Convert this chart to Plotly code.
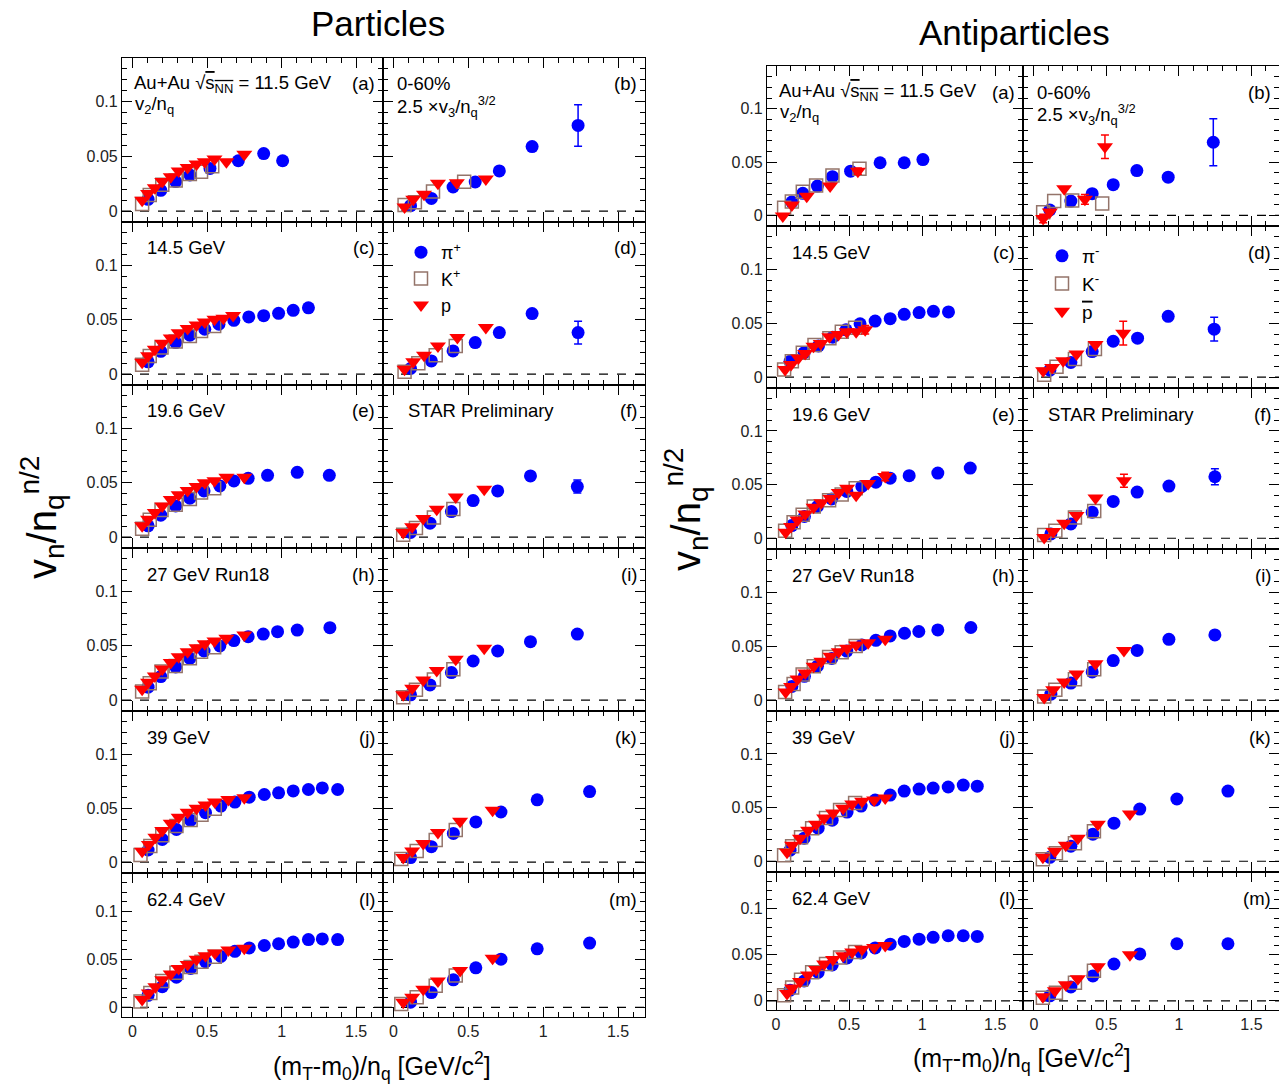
import plotly.graph_objects as go

W, H = 1279, 1085
FONT = "Liberation Sans, Arial, sans-serif"

energies = ["11.5", "14.5", "19.6", "27", "39", "62.4"]
energy_labels = [None, "14.5 GeV", "19.6 GeV", "27 GeV Run18", "39 GeV", "62.4 GeV"]
panel_letters = [("a", "b"), ("c", "d"), ("e", "f"), ("h", "i"), ("j", "k"), ("l", "m")]

# ---------------- Particles: v2/n_q ----------------
pos_v2_pion = {
    "11.5": ([0.105, 0.19, 0.29, 0.385, 0.52, 0.71, 0.88, 1.007],
             [0.0107, 0.019, 0.027, 0.033, 0.039, 0.046, 0.0526, 0.046]),
    "14.5": ([0.105, 0.19, 0.29, 0.385, 0.485, 0.58, 0.68, 0.78, 0.88, 0.98, 1.078, 1.18],
             [0.0113, 0.021, 0.029, 0.0358, 0.0413, 0.0459, 0.0495, 0.0526, 0.0538, 0.056, 0.0587, 0.061]),
    "19.6": ([0.105, 0.19, 0.29, 0.385, 0.48, 0.586, 0.68, 0.776, 0.906, 1.105, 1.32],
             [0.0104, 0.0202, 0.0287, 0.0358, 0.0425, 0.0471, 0.0517, 0.0541, 0.0569, 0.0596, 0.0569]),
    "27": ([0.105, 0.19, 0.29, 0.385, 0.48, 0.586, 0.68, 0.776, 0.877, 0.973, 1.105, 1.324],
           [0.0119, 0.0217, 0.0306, 0.0385, 0.0452, 0.0498, 0.0548, 0.0584, 0.0608, 0.063, 0.0645, 0.0667]),
    "39": ([0.105, 0.2, 0.295, 0.39, 0.49, 0.593, 0.687, 0.783, 0.884, 0.98, 1.078, 1.18, 1.273, 1.376],
           [0.0113, 0.0211, 0.0303, 0.0388, 0.0459, 0.052, 0.0557, 0.0602, 0.0627, 0.0642, 0.066, 0.0673, 0.0688, 0.0673]),
    "62.4": ([0.105, 0.2, 0.295, 0.39, 0.49, 0.593, 0.687, 0.783, 0.884, 0.98, 1.078, 1.18, 1.273, 1.376],
             [0.0126, 0.0215, 0.0315, 0.0405, 0.0476, 0.053, 0.0584, 0.062, 0.0645, 0.0663, 0.068, 0.0706, 0.0713, 0.0706]),
}
pos_v2_kaon = {
    "11.5": ([0.065, 0.116, 0.2, 0.29, 0.385, 0.46, 0.535],
             [0.0064, 0.0147, 0.024, 0.028, 0.034, 0.036, 0.041]),
    "14.5": ([0.065, 0.116, 0.195, 0.29, 0.385, 0.46, 0.548],
             [0.0086, 0.0168, 0.0245, 0.03, 0.035, 0.0398, 0.0443]),
    "19.6": ([0.065, 0.116, 0.195, 0.29, 0.385, 0.46, 0.548],
             [0.0077, 0.0159, 0.025, 0.0297, 0.035, 0.041, 0.045]),
    "27": ([0.065, 0.116, 0.195, 0.29, 0.385, 0.46, 0.548],
           [0.0079, 0.0156, 0.0263, 0.0315, 0.0385, 0.0446, 0.0486]),
    "39": ([0.054, 0.12, 0.2, 0.295, 0.39, 0.463, 0.552],
           [0.0067, 0.015, 0.025, 0.0336, 0.039, 0.044, 0.0495]),
    "62.4": ([0.054, 0.12, 0.2, 0.295, 0.39, 0.463, 0.552],
             [0.0061, 0.015, 0.0276, 0.036, 0.042, 0.0476, 0.0527]),
}
pos_v2_proton = {
    "11.5": ([0.065, 0.105, 0.15, 0.2, 0.257, 0.31, 0.37, 0.43, 0.485, 0.55, 0.63, 0.75],
             [0.0098, 0.016, 0.0214, 0.027, 0.0315, 0.0367, 0.0398, 0.043, 0.045, 0.0477, 0.045, 0.052]),
    "14.5": ([0.065, 0.105, 0.15, 0.2, 0.257, 0.31, 0.37, 0.43, 0.485, 0.55, 0.61, 0.675],
             [0.011, 0.017, 0.023, 0.0285, 0.0333, 0.038, 0.042, 0.0453, 0.048, 0.0505, 0.0514, 0.054]),
    "19.6": ([0.065, 0.105, 0.15, 0.2, 0.257, 0.31, 0.37, 0.43, 0.485, 0.55, 0.63, 0.75],
             [0.0104, 0.0165, 0.0226, 0.0287, 0.0346, 0.039, 0.043, 0.0465, 0.05, 0.052, 0.055, 0.055]),
    "27": ([0.065, 0.105, 0.15, 0.2, 0.257, 0.31, 0.37, 0.43, 0.485, 0.55, 0.63, 0.75],
           [0.01, 0.0165, 0.0223, 0.0287, 0.0346, 0.04, 0.0446, 0.0483, 0.052, 0.0544, 0.0569, 0.06]),
    "39": ([0.065, 0.11, 0.154, 0.2, 0.257, 0.31, 0.37, 0.43, 0.49, 0.553, 0.643, 0.75],
           [0.0101, 0.0165, 0.0232, 0.0294, 0.0361, 0.0416, 0.0462, 0.05, 0.053, 0.0557, 0.0581, 0.0596]),
    "62.4": ([0.065, 0.11, 0.154, 0.2, 0.257, 0.31, 0.37, 0.43, 0.49, 0.553, 0.643, 0.75],
             [0.0082, 0.015, 0.0215, 0.0287, 0.0348, 0.0405, 0.0448, 0.0502, 0.0538, 0.0566, 0.0599, 0.0616]),
}

# ---------------- Particles: 2.5 x v3/n_q^(3/2) ----------------
pos_v3_pion = {
    "11.5": ([0.114, 0.253, 0.398, 0.546, 0.707, 0.926, 1.233],
             [0.0049, 0.0116, 0.022, 0.0266, 0.0367, 0.059, 0.0783]),
    "14.5": ([0.114, 0.253, 0.398, 0.546, 0.707, 0.926, 1.233],
             [0.0052, 0.0122, 0.0214, 0.029, 0.0382, 0.0557, 0.0382]),
    "19.6": ([0.114, 0.244, 0.387, 0.532, 0.696, 0.915, 1.228],
             [0.0043, 0.0128, 0.0235, 0.0336, 0.0425, 0.0563, 0.0465]),
    "27": ([0.114, 0.244, 0.387, 0.532, 0.696, 0.915, 1.228],
           [0.0049, 0.014, 0.0254, 0.036, 0.0452, 0.0538, 0.0608]),
    "39": ([0.114, 0.253, 0.4, 0.55, 0.718, 0.96, 1.31],
           [0.0043, 0.0144, 0.0266, 0.0373, 0.0465, 0.0578, 0.0654]),
    "62.4": ([0.114, 0.253, 0.4, 0.55, 0.718, 0.96, 1.31],
             [0.0054, 0.0154, 0.0287, 0.0412, 0.0502, 0.061, 0.067]),
}
pos_v3_pion_err = {
    "11.5": [0, 0, 0, 0, 0, 0.003, 0.019],
    "14.5": [0, 0, 0, 0, 0, 0, 0.0105],
    "19.6": [0, 0, 0, 0, 0, 0, 0.006],
}
pos_v3_kaon = {
    "11.5": ([0.074, 0.143, 0.264, 0.472], [0.0055, 0.008, 0.018, 0.0269]),
    "14.5": ([0.074, 0.166, 0.282, 0.416], [0.0021, 0.0101, 0.0174, 0.026]),
    "19.6": ([0.065, 0.15, 0.27, 0.4], [0.0021, 0.0083, 0.018, 0.026]),
    "27": ([0.065, 0.15, 0.27, 0.4], [0.0027, 0.0095, 0.019, 0.0284]),
    "39": ([0.052, 0.155, 0.282, 0.416], [0.003, 0.0104, 0.0205, 0.0297]),
    "62.4": ([0.052, 0.155, 0.282, 0.416], [0.0036, 0.0107, 0.0226, 0.0333]),
}
pos_v3_proton = {
    "11.5": ([0.074, 0.132, 0.204, 0.297, 0.423, 0.617], [0.0037, 0.0107, 0.0153, 0.0254, 0.026, 0.0294]),
    "14.5": ([0.074, 0.132, 0.204, 0.297, 0.427, 0.617], [0.0046, 0.0113, 0.0174, 0.026, 0.0336, 0.0428]),
    "19.6": ([0.065, 0.125, 0.199, 0.289, 0.416, 0.606], [0.0043, 0.0095, 0.0171, 0.0257, 0.037, 0.044]),
    "27": ([0.065, 0.125, 0.199, 0.289, 0.416, 0.606], [0.0049, 0.011, 0.0186, 0.0272, 0.0376, 0.0477]),
    "39": ([0.065, 0.125, 0.199, 0.297, 0.445, 0.662], [0.0043, 0.0104, 0.0174, 0.0275, 0.0379, 0.048]),
    "62.4": ([0.065, 0.125, 0.199, 0.297, 0.445, 0.662], [0.0054, 0.0107, 0.019, 0.0276, 0.0384, 0.0513]),
}

# ---------------- Antiparticles: v2/n_q ----------------
neg_v2_pion = {
    "11.5": ([0.108, 0.183, 0.283, 0.386, 0.51, 0.712, 0.877, 1.005],
             [0.0124, 0.0206, 0.0274, 0.0362, 0.0414, 0.0493, 0.0493, 0.0523]),
    "14.5": ([0.096, 0.192, 0.29, 0.388, 0.479, 0.575, 0.678, 0.781, 0.877, 0.979, 1.077, 1.18],
             [0.0147, 0.0227, 0.029, 0.0371, 0.0439, 0.0495, 0.052, 0.0542, 0.0582, 0.0598, 0.061, 0.0604]),
    "19.6": ([0.108, 0.194, 0.283, 0.381, 0.484, 0.587, 0.683, 0.781, 0.911, 1.107, 1.329],
             [0.0118, 0.0203, 0.0296, 0.0367, 0.0436, 0.0483, 0.0523, 0.056, 0.0583, 0.0607, 0.0654]),
    "27": ([0.108, 0.194, 0.283, 0.381, 0.484, 0.587, 0.683, 0.781, 0.879, 0.977, 1.107, 1.333],
           [0.0128, 0.0221, 0.0315, 0.0386, 0.0455, 0.0511, 0.0554, 0.0595, 0.062, 0.0636, 0.0651, 0.0673]),
    "39": ([0.096, 0.192, 0.288, 0.384, 0.486, 0.582, 0.678, 0.781, 0.877, 0.979, 1.075, 1.178, 1.281, 1.377],
           [0.0103, 0.0215, 0.0308, 0.0383, 0.0458, 0.0514, 0.057, 0.0617, 0.0654, 0.0673, 0.0682, 0.0692, 0.071, 0.07]),
    "62.4": ([0.096, 0.192, 0.288, 0.384, 0.486, 0.582, 0.678, 0.781, 0.877, 0.979, 1.075, 1.178, 1.281, 1.377],
             [0.0115, 0.0215, 0.031, 0.039, 0.0465, 0.052, 0.0575, 0.0615, 0.0645, 0.067, 0.0690, 0.0707, 0.0707, 0.0700]),
}
neg_v2_kaon = {
    "11.5": ([0.055, 0.108, 0.183, 0.274, 0.386, 0.571], [0.0072, 0.013, 0.022, 0.028, 0.0374, 0.0436]),
    "14.5": ([0.055, 0.108, 0.183, 0.263, 0.365, 0.45, 0.541], [0.0072, 0.0147, 0.0227, 0.0299, 0.0361, 0.042, 0.0458]),
    "19.6": ([0.062, 0.12, 0.182, 0.258, 0.363, 0.449, 0.545], [0.0069, 0.0149, 0.0218, 0.0296, 0.0355, 0.0408, 0.0467]),
    "27": ([0.062, 0.12, 0.182, 0.258, 0.363, 0.449, 0.545], [0.0075, 0.015, 0.0237, 0.0315, 0.0399, 0.0445, 0.0502]),
    "39": ([0.055, 0.11, 0.171, 0.247, 0.342, 0.438, 0.541], [0.0056, 0.014, 0.0224, 0.0308, 0.0402, 0.0477, 0.0542]),
    "62.4": ([0.055, 0.11, 0.171, 0.247, 0.342, 0.438, 0.541], [0.006, 0.0145, 0.023, 0.031, 0.040, 0.047, 0.053]),
}
neg_v2_proton = {
    "11.5": ([0.046, 0.108, 0.21, 0.37, 0.56], [-0.0006, 0.0096, 0.018, 0.0274, 0.0414]),
    "14.5": ([0.062, 0.103, 0.153, 0.199, 0.256, 0.306, 0.365, 0.427, 0.484, 0.548, 0.61],
             [0.0072, 0.0118, 0.0178, 0.022, 0.0287, 0.0312, 0.0374, 0.0396, 0.042, 0.042, 0.0439]),
    "19.6": ([0.066, 0.103, 0.147, 0.2, 0.257, 0.31, 0.372, 0.429, 0.486, 0.548, 0.63, 0.747],
             [0.0056, 0.011, 0.0171, 0.0227, 0.0289, 0.033, 0.0371, 0.0426, 0.0465, 0.040, 0.0511, 0.0576]),
    "27": ([0.066, 0.103, 0.147, 0.2, 0.257, 0.31, 0.372, 0.429, 0.486, 0.548, 0.63, 0.747],
           [0.0075, 0.0128, 0.0196, 0.0252, 0.0315, 0.0361, 0.0408, 0.0449, 0.048, 0.0511, 0.0533, 0.0564]),
    "39": ([0.075, 0.11, 0.164, 0.219, 0.274, 0.329, 0.39, 0.459, 0.521, 0.589, 0.671, 0.747],
           [0.0084, 0.015, 0.0215, 0.029, 0.0346, 0.0402, 0.0449, 0.0495, 0.0533, 0.056, 0.057, 0.0589]),
    "62.4": ([0.075, 0.11, 0.164, 0.219, 0.274, 0.329, 0.39, 0.459, 0.521, 0.589, 0.671, 0.747],
             [0.008, 0.014, 0.021, 0.028, 0.034, 0.04, 0.045, 0.049, 0.053, 0.056, 0.058, 0.060]),
}
neg_v2_proton_err = {
    "11.5": [0, 0, 0, 0, 0.003],
    "14.5": [0, 0, 0, 0, 0, 0, 0, 0, 0, 0, 0.004],
    "19.6": [0, 0, 0, 0, 0, 0, 0, 0, 0, 0, 0, 0.004],
}

# ---------------- Antiparticles: 2.5 x v3/n_q^(3/2) ----------------
neg_v3_pion = {
    "11.5": ([0.110, 0.255, 0.402, 0.547, 0.71, 0.926, 1.237], [0.005, 0.0134, 0.0203, 0.0287, 0.042, 0.0358, 0.0685]),
    "14.5": ([0.110, 0.255, 0.402, 0.547, 0.715, 0.926, 1.243], [0.0065, 0.0137, 0.0237, 0.0333, 0.0361, 0.0564, 0.0445]),
    "19.6": ([0.117, 0.255, 0.402, 0.547, 0.712, 0.931, 1.248], [0.004, 0.0134, 0.0243, 0.0343, 0.043, 0.0486, 0.0573]),
    "27": ([0.117, 0.255, 0.402, 0.547, 0.712, 0.931, 1.248], [0.0056, 0.0159, 0.0262, 0.0367, 0.0461, 0.0564, 0.0604]),
    "39": ([0.11, 0.255, 0.407, 0.552, 0.73, 0.986, 1.338], [0.0037, 0.014, 0.0252, 0.0355, 0.0486, 0.058, 0.0654]),
    "62.4": ([0.11, 0.255, 0.407, 0.552, 0.73, 0.986, 1.338], [0.0054, 0.015, 0.027, 0.040, 0.051, 0.062, 0.062]),
}
neg_v3_pion_err = {
    "11.5": [0, 0, 0, 0, 0, 0.004, 0.022],
    "14.5": [0, 0, 0, 0, 0, 0, 0.011],
    "19.6": [0, 0, 0, 0, 0, 0, 0.0075],
}
neg_v3_kaon = {
    "11.5": ([0.064, 0.14, 0.264, 0.471], [0.003, 0.0134, 0.014, 0.0112]),
    "14.5": ([0.071, 0.156, 0.283, 0.421], [0.0022, 0.0097, 0.0168, 0.0262]),
    "19.6": ([0.071, 0.148, 0.283, 0.416], [0.0031, 0.0069, 0.0193, 0.0255]),
    "27": ([0.071, 0.148, 0.283, 0.416], [0.0034, 0.0097, 0.0193, 0.0287]),
    "39": ([0.062, 0.152, 0.283, 0.414], [0.0019, 0.0075, 0.0168, 0.028]),
    "62.4": ([0.062, 0.152, 0.283, 0.414], [0.0033, 0.0087, 0.0196, 0.0326]),
}
neg_v3_proton = {
    "11.5": ([0.064, 0.110, 0.209, 0.352, 0.49], [-0.003, 0.0031, 0.025, 0.015, 0.0642]),
    "14.5": ([0.064, 0.126, 0.202, 0.294, 0.425, 0.616], [0.0059, 0.009, 0.0153, 0.0215, 0.0302, 0.0408]),
    "19.6": ([0.071, 0.133, 0.209, 0.294, 0.425, 0.621], [0.0006, 0.0062, 0.014, 0.0212, 0.0374, 0.0536]),
    "27": ([0.071, 0.133, 0.209, 0.294, 0.425, 0.621], [0.0025, 0.0097, 0.0168, 0.0243, 0.0337, 0.0461]),
    "39": ([0.062, 0.145, 0.22, 0.303, 0.441, 0.662], [0.0037, 0.0093, 0.015, 0.0215, 0.0346, 0.044]),
    "62.4": ([0.062, 0.145, 0.22, 0.303, 0.441, 0.662], [0.0043, 0.011, 0.0174, 0.024, 0.037, 0.05]),
}
neg_v3_proton_err = {
    "11.5": [0.004, 0, 0, 0.0045, 0.011],
    "14.5": [0, 0, 0, 0, 0, 0.011],
    "19.6": [0, 0, 0, 0, 0, 0.006],
}

# species styling and legend names per figure half
species_style = {
    "pion": dict(symbol="circle", color="#0000ff", size=13, line=dict(width=0)),
    "kaon": dict(symbol="square-open", color="#94746a", size=13, line=dict(width=1.5, color="#94746a")),
    "proton": dict(symbol="triangle-down", color="#ff0000", size=14, line=dict(width=0)),
}
legend_names = {
    0: {"pion": "π<sup>+</sup>", "kaon": "K<sup>+</sup>", "proton": "p"},
    1: {"pion": "π<sup>-</sup>", "kaon": "K<sup>-</sup>",
        "proton": "<span style='text-decoration:overline'>p</span>"},
}
datasets = {
    (0, 0): (pos_v2_pion, pos_v2_kaon, pos_v2_proton, {}, {}),
    (0, 1): (pos_v3_pion, pos_v3_kaon, pos_v3_proton, pos_v3_pion_err, {}),
    (1, 0): (neg_v2_pion, neg_v2_kaon, neg_v2_proton, {}, neg_v2_proton_err),
    (1, 1): (neg_v3_pion, neg_v3_kaon, neg_v3_proton, neg_v3_pion_err, neg_v3_proton_err),
}

# pad geometry (pixels) for the two canvases
col_px = {0: [(122, 383), (383, 645)], 1: [(767, 1023), (1023, 1279)]}
row_px = {0: [(58, 222), (222, 385), (385, 548), (548, 711), (711, 873), (873, 1017)],
          1: [(66, 226), (226, 388), (388, 549), (549, 711), (711, 872), (872, 1010)]}
x_ranges = {0: [(-0.07, 1.68), (-0.07, 1.68)], 1: [(-0.062, 1.69), (-0.075, 1.69)]}
Y_RANGE = (-0.01, 0.14)

fig = go.Figure()
layout = dict(width=W, height=H, margin=dict(l=0, r=0, t=0, b=0),
              paper_bgcolor="white", plot_bgcolor="white",
              font=dict(family=FONT, color="black"), showlegend=True)
shapes, annotations = [], []


def pax(i):
    return ("x" if i == 1 else f"x{i}"), ("y" if i == 1 else f"y{i}")


def add_text(x, y, text, size=18.5, xanchor="left", yanchor="middle", angle=0):
    annotations.append(dict(xref="paper", yref="paper", x=x / W, y=1 - y / H, text=text,
                            showarrow=False, xanchor=xanchor, yanchor=yanchor, textangle=angle,
                            font=dict(size=size, family=FONT, color="black")))


for side in (0, 1):
    for r in range(6):
        for c in range(2):
            i = side * 12 + r * 2 + c + 1
            xa, ya = pax(i)
            x0, x1 = col_px[side][c]
            y0, y1 = row_px[side][r]
            bottom = r == 5
            left = c == 0
            layout["xaxis" + ("" if i == 1 else str(i))] = dict(
                domain=[x0 / W, x1 / W], anchor=ya, range=list(x_ranges[side][c]),
                showline=True, linecolor="black", linewidth=1.2, mirror="ticks",
                ticks="inside", ticklen=10, tickwidth=1.2, tickcolor="black",
                tick0=0, dtick=0.5, showgrid=False, zeroline=False,
                minor=dict(ticks="inside", ticklen=5, tickwidth=1, tickcolor="black", dtick=0.1, tick0=0,
                           showgrid=False),
                showticklabels=bottom, tickfont=dict(size=16, color="#222", family=FONT),
                fixedrange=True)
            layout["yaxis" + ("" if i == 1 else str(i))] = dict(
                domain=[1 - y1 / H, 1 - y0 / H], anchor=xa, range=list(Y_RANGE),
                showline=True, linecolor="black", linewidth=1.2, mirror="ticks",
                ticks="inside", ticklen=10, tickwidth=1.2, tickcolor="black",
                tick0=0, dtick=0.05, showgrid=False, zeroline=False,
                minor=dict(ticks="inside", ticklen=5, tickwidth=1, tickcolor="black", dtick=0.01, tick0=0,
                           showgrid=False),
                showticklabels=left, tickfont=dict(size=16, color="#222", family=FONT),
                fixedrange=True)

            # dashed zero line
            shapes.append(dict(type="line", xref=f"{xa} domain", yref=ya, x0=0, x1=1, y0=0, y1=0,
                               line=dict(color="black", width=1.2, dash="dash"), layer="below"))

            pion, kaon, proton, pion_err, proton_err = datasets[(side, c)]
            e = energies[r]
            for name, data, errs in (("pion", pion, pion_err), ("kaon", kaon, {}),
                                     ("proton", proton, proton_err)):
                xs, ys = data[e]
                st = species_style[name]
                err = errs.get(e)
                show_leg = (r == 1 and c == 1)
                tr = go.Scatter(
                    x=xs, y=ys, mode="markers", xaxis=xa, yaxis=ya,
                    name=legend_names[side][name], showlegend=show_leg,
                    legend="legend" if side == 0 else "legend2", legendgroup=f"{side}{name}",
                    marker=dict(symbol=st["symbol"], color=st["color"], size=st["size"], line=st["line"]),
                    cliponaxis=True, hoverinfo="skip")
                if err is not None:
                    tr.error_y = dict(type="data", array=err, visible=True, color=st["color"],
                                      thickness=1.5, width=4)
                fig.add_trace(tr)

            # panel labels
            letter = panel_letters[r][c]
            lab_y = y0 + 26
            add_text(x1 - 6, lab_y, f"({letter})", xanchor="right")
            if c == 0:
                if r == 0:
                    add_text(x0 + 10, lab_y,
                             "Au+Au √<span style='text-decoration:overline'>s<sub>NN</sub></span> = 11.5 GeV")
                    add_text(x0 + 11, y0 + 47, "v<sub>2</sub>/n<sub>q</sub>")
                else:
                    add_text(x0 + 23, lab_y, energy_labels[r])
            else:
                if r == 0:
                    add_text(x0 + 12, lab_y, "0-60%")
                    add_text(x0 + 12, y0 + 49, "2.5 ×v<sub>3</sub>/n<sub>q</sub><sup>3/2</sup>")
                elif r == 2:
                    add_text(x0 + 23, lab_y, "STAR Preliminary")

# canvas titles and axis titles
add_text(378, 24, "Particles", size=35, xanchor="center")
add_text(1014, 32, "Antiparticles", size=35, xanchor="center")
add_text(42, 518, "v<sub>n</sub>/n<sub>q</sub><sup>n/2</sup>", size=40, xanchor="center", angle=-90)
add_text(686, 510, "v<sub>n</sub>/n<sub>q</sub><sup>n/2</sup>", size=40, xanchor="center", angle=-90)
add_text(382, 1066, "(m<sub>T</sub>-m<sub>0</sub>)/n<sub>q</sub> [GeV/c<sup>2</sup>]", size=25, xanchor="center")
add_text(1022, 1058, "(m<sub>T</sub>-m<sub>0</sub>)/n<sub>q</sub> [GeV/c<sup>2</sup>]", size=25, xanchor="center")

layout["shapes"] = shapes
layout["annotations"] = annotations
layout["legend"] = dict(x=401 / W, y=1 - 234 / H, xanchor="left", yanchor="top",
                        bgcolor="rgba(0,0,0,0)", font=dict(size=18, family=FONT),
                        tracegroupgap=0, itemsizing="trace")
layout["legend2"] = dict(x=1042 / W, y=1 - 237 / H, xanchor="left", yanchor="top",
                         bgcolor="rgba(0,0,0,0)", font=dict(size=19, family=FONT),
                         tracegroupgap=0, itemsizing="trace")
fig.update_layout(**layout)

fig.write_html("out.html")
